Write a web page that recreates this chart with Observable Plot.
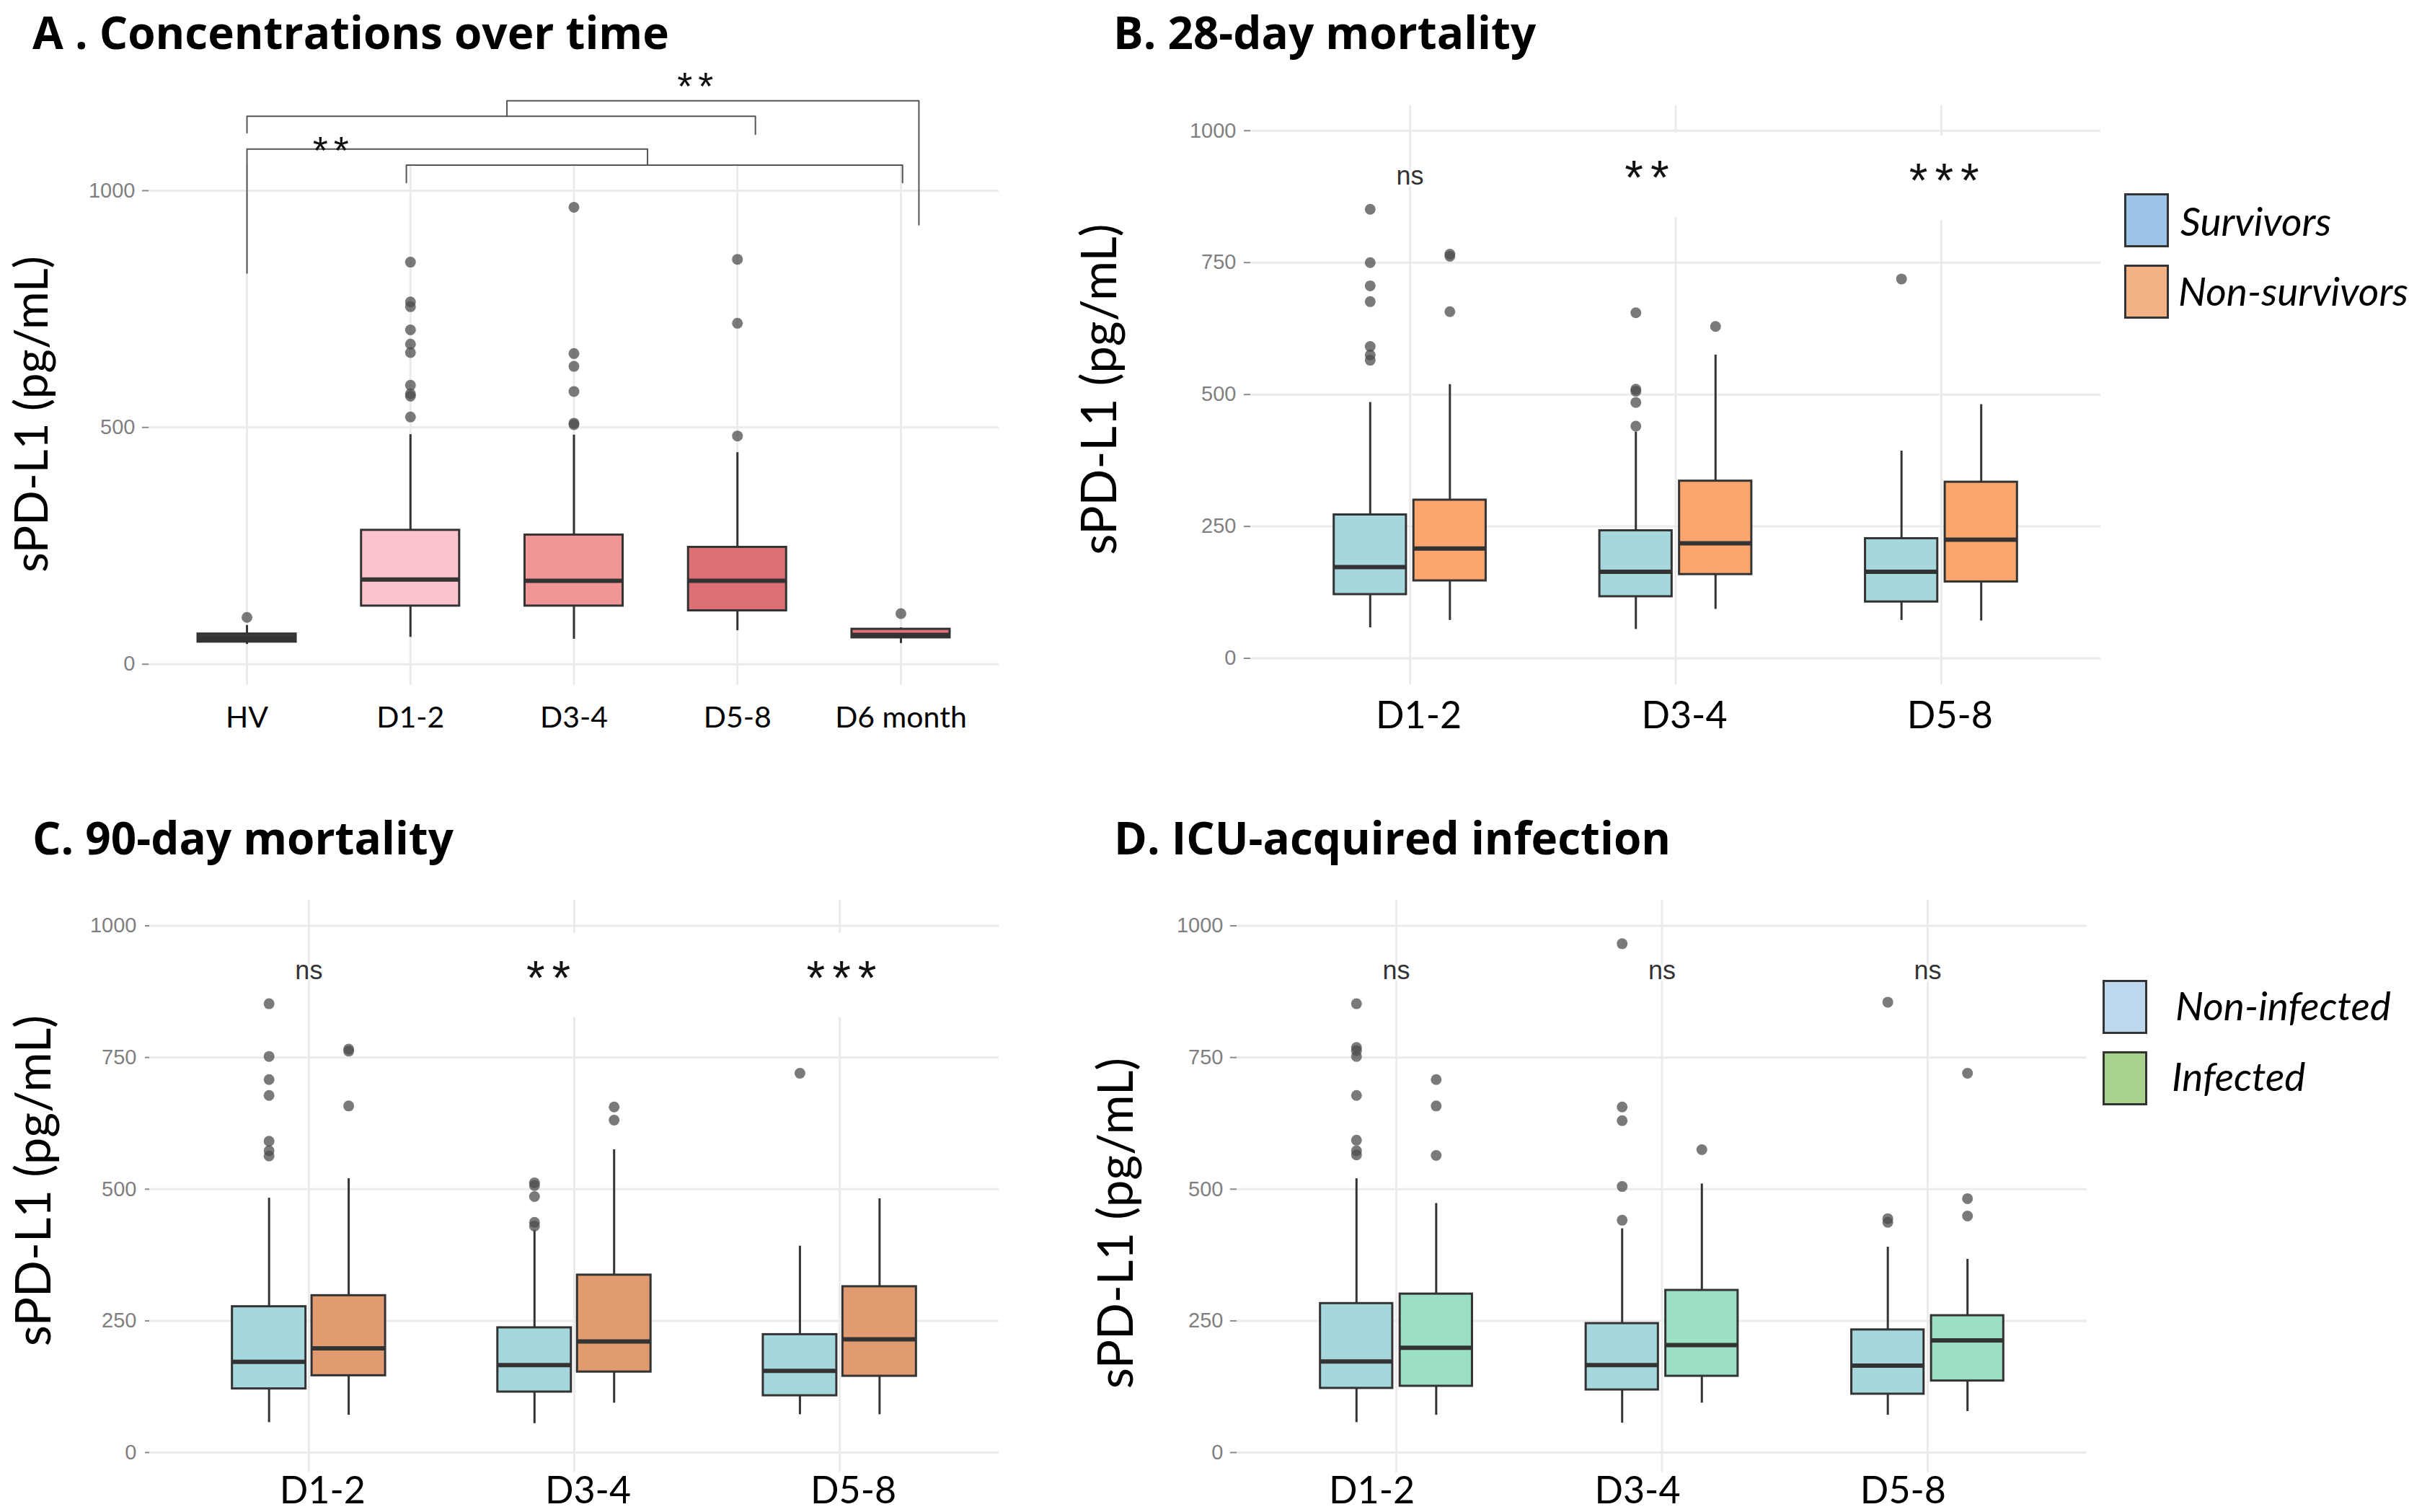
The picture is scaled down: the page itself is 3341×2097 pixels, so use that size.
<!DOCTYPE html>
<html><head><meta charset="utf-8">
<script src="https://cdn.jsdelivr.net/npm/d3@7"></script>
<script src="https://cdn.jsdelivr.net/npm/@observablehq/plot@0.6"></script>
<style>
body{margin:0;background:#fff;}
#fig{position:relative;width:3341px;height:2097px;background:#fff;overflow:hidden;}
.title{position:absolute;font-family:"Open Sans";font-weight:700;font-size:62px;line-height:1;white-space:nowrap;color:#000;}
.panel{position:absolute;}
.leg-sq{position:absolute;box-sizing:border-box;width:62px;height:75px;border:3px solid #333;}
.leg-tx{position:absolute;font-family:Lato;font-style:italic;font-size:55px;line-height:1;white-space:nowrap;color:#000;}
</style></head><body><div id="fig"></div><script>
// ---------------- DATA ----------------
// Panel A: concentrations over time
const catsA = ["HV", "D1-2", "D3-4", "D5-8", "D6 month"];
const loA  = [42, 57, 53, 71, 44];
const q1A  = [47, 123, 123, 113, 56];
const medA = [54, 179, 176, 176, 62];
const q3A  = [64, 283, 273, 247, 74];
const hiA  = [82, 485, 484, 447, 77];
const outA = [[99], [849, 765, 755, 706, 676, 658, 589, 571, 566, 522], [965, 656, 629, 576, 509, 506], [855, 720, 482], [107]];
const fillA = ["#3d3d3d", "#fcc5cd", "#f29597", "#de6e75", "#e0707b"];
// Panel A significance brackets (x in category index, y in pg/mL)
const bracketsA = [
  [[0, 1122], [0, 1157], [3.11, 1157], [3.11, 1119]],
  [[1.59, 1157], [1.59, 1190], [4.11, 1190], [4.11, 928]],
  [[0, 826], [0, 1088], [2.45, 1088], [2.45, 1054]],
  [[0.975, 1017], [0.975, 1054], [4.01, 1054], [4.01, 1017]]
];
const starsA = [{x: 2.76, y: 1239, t: "**"}, {x: 0.53, y: 1103, t: "**"}];

// Panels B, C, D share the categories
const catsBCD = ["D1-2", "D3-4", "D5-8"];

// Panel B: 28-day mortality
const bSurvLo  = [58, 55, 72],   bSurvQ1 = [121, 117, 107], bSurvMed = [173, 164, 164], bSurvQ3 = [272, 242, 227], bSurvHi = [485, 429, 393];
const bSurvOut = [[851, 750, 706, 676, 591, 575, 565], [655, 510, 506, 485, 440], [719]];
const bDeadLo  = [72, 93, 71],   bDeadQ1 = [147, 159, 145], bDeadMed = [208, 218, 225], bDeadQ3 = [300, 336, 334], bDeadHi = [519, 575, 481];
const bDeadOut = [[766, 762, 657], [629], []];
const sigB = [{x: 0, y: 914, t: "ns"}, {x: 0.905, y: 931, t: "**"}, {x: 2.024, y: 925, t: "***"}];

// Panel C: 90-day mortality
const cSurvLo  = [57, 55, 72],   cSurvQ1 = [121, 115, 108], cSurvMed = [172, 166, 155], cSurvQ3 = [277, 237, 224], cSurvHi = [483, 422, 392];
const cSurvOut = [[852, 752, 708, 678, 591, 573, 563], [512, 507, 486, 437, 430], [720]];
const cDeadLo  = [71, 94, 72],   cDeadQ1 = [146, 153, 145], cDeadMed = [198, 211, 215], cDeadQ3 = [298, 337, 315], cDeadHi = [520, 575, 482];
const cDeadOut = [[766, 762, 658], [656, 631], []];
const sigC = [{x: 0, y: 915, t: "ns"}, {x: 0.916, y: 921, t: "**"}, {x: 2.02, y: 921, t: "***"}];

// Panel D: ICU-acquired infection
const dNonLo  = [57, 56, 71],   dNonQ1 = [122, 119, 111], dNonMed = [173, 166, 165], dNonQ3 = [283, 245, 233], dNonHi = [520, 425, 390];
const dNonOut = [[852, 769, 763, 752, 678, 593, 573, 565], [966, 656, 630, 505, 441], [855, 444, 437]];
const dInfLo  = [71, 94, 78],   dInfQ1 = [126, 145, 136], dInfMed = [199, 204, 213], dInfQ3 = [301, 308, 260], dInfHi = [473, 510, 367];
const dInfOut = [[708, 658, 564], [575], [720, 482, 449]];
const sigD = [{x: 0, y: 915, t: "ns"}, {x: 1, y: 915, t: "ns"}, {x: 2, y: 915, t: "ns"}];

const yTicksA = [0, 500, 1000];
const yTicksBCD = [0, 250, 500, 750, 1000];
const yLabel = "sPD-L1 (pg/mL)";

// ---------------- HELPERS ----------------
const GRID = "#ebebeb", INK = "#333333";
const fig = document.getElementById("fig");

function boxRecs(offset, width, lo, q1, med, q3, hi, fill) {
  return lo.map((_, i) => ({
    x: i + offset, x1: i + offset - width / 2, x2: i + offset + width / 2,
    lo: lo[i], q1: q1[i], med: med[i], q3: q3[i], hi: hi[i],
    fill: Array.isArray(fill) ? fill[i] : fill
  }));
}
function outRecs(offset, outs) {
  return outs.flatMap((vals, i) => vals.map(v => ({x: i + offset, y: v})));
}
function boxMarks(recs, outs) {
  return [
    Plot.ruleX(recs, {x: "x", y1: "q3", y2: "hi", stroke: INK, strokeWidth: 3}),
    Plot.ruleX(recs, {x: "x", y1: "lo", y2: "q1", stroke: INK, strokeWidth: 3}),
    Plot.rect(recs, {x1: "x1", x2: "x2", y1: "q1", y2: "q3", fill: "fill", stroke: INK, strokeWidth: 3}),
    Plot.ruleY(recs, {y: "med", x1: "x1", x2: "x2", stroke: INK, strokeWidth: 6}),
    Plot.dot(outs, {x: "x", y: "y", r: 7.5, fill: "#4d4d4d", fillOpacity: 0.75})
  ];
}
function sigMarks(sig, starSize, starDy) {
  const stars = sig.filter(d => d.t.includes("*"));
  const ns = sig.filter(d => !d.t.includes("*"));
  return [
    Plot.rect(stars, {x1: d => Math.round(d.x) - 0.12, x2: d => Math.round(d.x) + 0.12, y1: d => d.y - 95, y2: d => d.y + 65, fill: "white"}),
    Plot.text(ns, {x: "x", y: "y", text: "t", fontSize: 36, fontFamily: "Liberation Sans", fill: "#333", stroke: "white", strokeWidth: 6}),
    Plot.text(stars, {x: "x", y: "y", text: "t", fontSize: starSize, dy: starDy, fontFamily: "Liberation Sans", fill: "#111"})
  ];
}

function panel(cfg) {
  const n = cfg.cats.length;
  const idx = d3.range(n);
  const p = Plot.plot({
    width: cfg.width, height: cfg.height,
    marginTop: cfg.m[0], marginRight: cfg.m[1], marginBottom: cfg.m[2], marginLeft: cfg.m[3],
    x: {domain: [-0.6, n - 0.4], axis: null},
    y: {domain: cfg.yDomain, axis: null},
    color: {type: "identity"},
    style: {overflow: "visible", background: "transparent"},
    marks: [
      Plot.gridY(cfg.yTicks, {stroke: GRID, strokeOpacity: 1, strokeWidth: 3}),
      Plot.gridX(idx, {stroke: GRID, strokeOpacity: 1, strokeWidth: 3}),
      Plot.axisY(cfg.yTicks, {tickSize: cfg.tick[0], tickPadding: cfg.tick[1], tickFormat: d => String(d),
        fontSize: 29, fontFamily: "Liberation Sans", fill: "#7f7f7f", stroke: "#8a8a8a", strokeWidth: 2, label: null}),
      Plot.axisX(idx, {tickSize: 0, tickPadding: cfg.xPad, dx: cfg.xDx, tickFormat: i => cfg.cats[i],
        fontSize: cfg.xFont, fontFamily: "Lato", fill: "#000", label: null}),
      Plot.text([yLabel], {frameAnchor: "left", textAnchor: "middle", text: d => d, rotate: -90, dx: cfg.yl[0], dy: cfg.yl[1],
        fontSize: cfg.yl[2], fontFamily: "Lato", fill: "#000"}),
      ...cfg.marks
    ]
  });
  p.classList.add("panel");
  p.style.left = cfg.left + "px";
  p.style.top = cfg.top + "px";
  p.style.position = "absolute";
  d3.select(p).selectAll("text").filter(function () { return /\*/.test(this.textContent); })
    .style("letter-spacing", cfg.starSpacing + "px");
  fig.appendChild(p);
}

function addTitle(text, left, baseline) {
  const d = document.createElement("div");
  d.className = "title"; d.textContent = text;
  d.style.left = left + "px"; d.style.top = (baseline - 0.888 * 62) + "px";
  fig.appendChild(d);
}
function addLegend(items, sqLeft, txLefts, sqTops, baselines) {
  items.forEach((it, i) => {
    const s = document.createElement("div");
    s.className = "leg-sq"; s.style.left = sqLeft + "px"; s.style.top = sqTops[i] + "px"; s.style.background = it.color;
    fig.appendChild(s);
    const t = document.createElement("div");
    t.className = "leg-tx"; t.textContent = it.label;
    t.style.left = txLefts[i] + "px"; t.style.top = (baselines[i] - 0.887 * 55) + "px";
    fig.appendChild(t);
  });
}

// ---------------- PANEL A ----------------
const recA = boxRecs(0, 0.6, loA, q1A, medA, q3A, hiA, fillA);
const bracketPts = bracketsA.flatMap((pts, k) => pts.map(([x, y]) => ({k, x, y})));
panel({
  left: 0, top: 0, width: 1490, height: 1045, m: [228, 105, 95, 206],
  cats: catsA, yDomain: [-44.6, 1054.7], yTicks: yTicksA, tick: [9, 10],
  xPad: 29, xDx: 0, xFont: 41, yl: [-161, -15, 64], starSpacing: 8,
  marks: [
    ...boxMarks(recA, outRecs(0, outA)),
    Plot.line(bracketPts, {x: "x", y: "y", z: "k", stroke: "#555", strokeWidth: 2}),
    Plot.text(starsA, {x: "x", y: "y", text: "t", fontSize: 54, dy: 13, fontFamily: "Liberation Sans", fill: "#111"})
  ]
});
addTitle("A . Concentrations over time", 45, 68);

// ---------------- PANEL B ----------------
panel({
  left: 1490, top: 0, width: 1851, height: 1045, m: [146, 428, 96, 244],
  cats: catsBCD, yDomain: [-49.8, 1047.5], yTicks: yTicksBCD, tick: [9, 11],
  xPad: 24, xDx: 12, xFont: 52, yl: [-208, -8, 67], starSpacing: 10,
  marks: [
    ...sigMarks(sigB, 66, 16),
    ...boxMarks(boxRecs(-0.15, 0.272, bSurvLo, bSurvQ1, bSurvMed, bSurvQ3, bSurvHi, "#a6d7dc"), outRecs(-0.15, bSurvOut)),
    ...boxMarks(boxRecs(0.15, 0.272, bDeadLo, bDeadQ1, bDeadMed, bDeadQ3, bDeadHi, "#fca56e"), outRecs(0.15, bDeadOut))
  ]
});
addTitle("B. 28-day mortality", 1544, 68);
addLegend([{label: "Survivors", color: "#9dc3e6"}, {label: "Non-survivors", color: "#f4b183"}],
  2946, [3024, 3021], [268, 367], [328, 425]);

// ---------------- PANEL C ----------------
panel({
  left: 0, top: 1100, width: 1490, height: 997, m: [148, 105, 55, 207],
  cats: catsBCD, yDomain: [-38.3, 1048.6], yTicks: yTicksBCD, tick: [6, 12],
  xPad: 6, xDx: 19, xFont: 52, yl: [-159, -8, 67], starSpacing: 10,
  marks: [
    ...sigMarks(sigC, 66, 16),
    ...boxMarks(boxRecs(-0.15, 0.277, cSurvLo, cSurvQ1, cSurvMed, cSurvQ3, cSurvHi, "#a6d7dc"), outRecs(-0.15, cSurvOut)),
    ...boxMarks(boxRecs(0.15, 0.277, cDeadLo, cDeadQ1, cDeadMed, cDeadQ3, cDeadHi, "#e09b70"), outRecs(0.15, cDeadOut))
  ]
});
addTitle("C. 90-day mortality", 45, 1185);

// ---------------- PANEL D ----------------
panel({
  left: 1490, top: 1100, width: 1851, height: 997, m: [148, 447, 55, 225],
  cats: catsBCD, yDomain: [-38.3, 1048.6], yTicks: yTicksBCD, tick: [9, 10],
  xPad: 6, xDx: -34, xFont: 52, yl: [-166, 51, 67], starSpacing: 10,
  marks: [
    ...sigMarks(sigD, 66, 16),
    ...boxMarks(boxRecs(-0.15, 0.272, dNonLo, dNonQ1, dNonMed, dNonQ3, dNonHi, "#a6d7dc"), outRecs(-0.15, dNonOut)),
    ...boxMarks(boxRecs(0.15, 0.272, dInfLo, dInfQ1, dInfMed, dInfQ3, dInfHi, "#9bdfc5"), outRecs(0.15, dInfOut))
  ]
});
addTitle("D. ICU-acquired infection", 1545, 1185);
addLegend([{label: "Non-infected", color: "#bdd7ee"}, {label: "Infected", color: "#a9d18e"}],
  2916, [3017, 3012], [1359, 1458], [1416, 1514]);
</script></body></html>
